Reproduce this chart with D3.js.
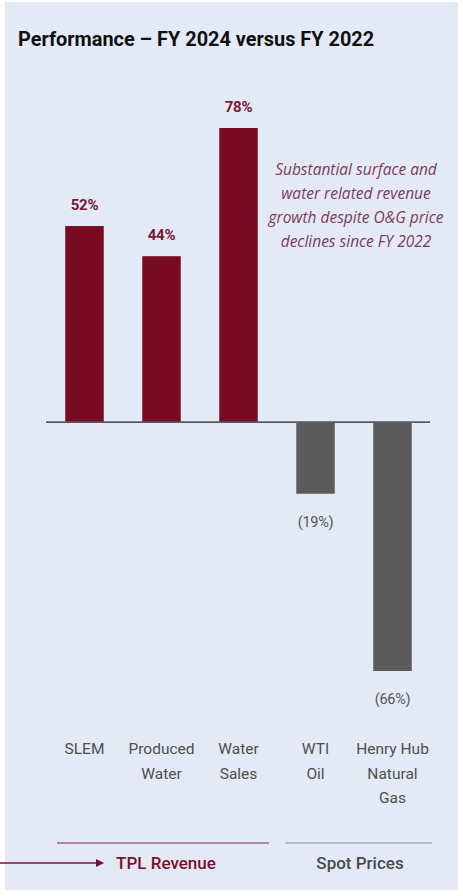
<!DOCTYPE html>
<html>
<head>
<meta charset="utf-8">
<script src="https://cdn.jsdelivr.net/npm/d3@7/dist/d3.min.js"></script>
<style>
  html, body { margin: 0; padding: 0; background: #ffffff; }
  svg { display: block; }
</style>
</head>
<body>
<svg id="chart" width="463" height="896"></svg>
<script>
// Growth from FY 2022 to FY 2024, in percent
const categories = ["SLEM", "Produced Water", "Water Sales", "WTI Oil", "Henry Hub Natural Gas"];
const categoryLines = [["SLEM"], ["Produced", "Water"], ["Water", "Sales"], ["WTI", "Oil"], ["Henry Hub", "Natural", "Gas"]];
const values = [52, 44, 78, -19, -66];
const valueLabels = ["52%", "44%", "78%", "(19%)", "(66%)"];
const groups = ["TPL Revenue", "TPL Revenue", "TPL Revenue", "Spot Prices", "Spot Prices"];
const groupNames = ["TPL Revenue", "Spot Prices"];
const titleText = "Performance \u2013 FY 2024 versus FY 2022";
const noteLines = ["Substantial surface and", "water related revenue", "growth despite O&G price", "declines since FY 2022"];

const svg = d3.select("#chart");
const font = "Roboto, 'Open Sans', sans-serif";

// panel background
svg.append("rect").attr("x", 5).attr("y", 2).attr("width", 453).attr("height", 888)
  .attr("fill", "#e4eaf5");

svg.append("text").attr("x", 18).attr("y", 46)
  .attr("font-family", font).attr("font-weight", 700).attr("font-size", 19.9)
  .attr("fill", "#111")
  .text(titleText);

const x = d3.scaleBand().domain(categories).range([46, 431]).paddingInner(0.5).paddingOuter(0.25);
const y = d3.scaleLinear().domain([-66, 78]).range([671, 128]);

const color = (d, i) => values[i] >= 0 ? "#780a22" : "#5b5b5b";

svg.append("g").selectAll("rect").data(values).join("rect")
  .attr("x", (d, i) => x(categories[i]))
  .attr("width", x.bandwidth())
  .attr("y", d => Math.min(y(d), y(0)))
  .attr("height", d => Math.abs(y(d) - y(0)))
  .attr("fill", color);

// zero baseline
svg.append("line").attr("x1", 46).attr("x2", 430).attr("y1", y(0)).attr("y2", y(0))
  .attr("stroke", "#555b66").attr("stroke-width", 1.6);

// value labels
svg.append("g").selectAll("text").data(values).join("text")
  .attr("x", (d, i) => x(categories[i]) + x.bandwidth() / 2)
  .attr("y", d => d >= 0 ? y(d) - 16 : y(d) + 33)
  .attr("text-anchor", "middle")
  .attr("font-family", font)
  .attr("font-size", d => d >= 0 ? 15 : 14.5)
  .attr("font-weight", d => d >= 0 ? 700 : 400)
  .attr("letter-spacing", -0.3)
  .attr("fill", d => d >= 0 ? "#7a1735" : "#555")
  .text((d, i) => valueLabels[i]);

// category labels
const catG = svg.append("g");
categoryLines.forEach((lines, i) => {
  const t = catG.append("text")
    .attr("x", x(categories[i]) + x.bandwidth() / 2)
    .attr("y", 754)
    .attr("text-anchor", "middle")
    .attr("font-family", font).attr("font-size", 15.5).attr("fill", "#4e4e4e");
  lines.forEach((l, j) => t.append("tspan")
    .attr("x", x(categories[i]) + x.bandwidth() / 2)
    .attr("dy", j === 0 ? 0 : 24.5).text(l));
});

// group brackets
const spanExt = [[57, 269], [285, 432]];
groupNames.forEach((g, k) => {
  svg.append("line").attr("x1", spanExt[k][0]).attr("x2", spanExt[k][1])
    .attr("y1", 843).attr("y2", 843)
    .attr("stroke", k === 0 ? "#b58593" : "#b9bcc4").attr("stroke-width", 1.8);
  svg.append("text")
    .attr("x", k === 0 ? 166 : 360).attr("y", 869)
    .attr("text-anchor", "middle")
    .attr("font-family", font).attr("font-size", 17).attr("font-weight", 500)
    .attr("fill", k === 0 ? "#7a0f2c" : "#4a4a4a")
    .text(g);
});

// arrow pointing at TPL Revenue
svg.append("line").attr("x1", 0).attr("x2", 98).attr("y1", 863).attr("y2", 863)
  .attr("stroke", "#7a0f2c").attr("stroke-width", 1.6);
svg.append("path").attr("d", "M96,859 L104,863 L96,867 Z").attr("fill", "#7a0f2c");

// annotation
const note = svg.append("text").attr("font-family", "'Open Sans', sans-serif")
  .attr("font-style", "italic").attr("font-size", 15.5).attr("fill", "#7d3a5c")
  .attr("text-anchor", "middle");
noteLines.forEach((l, j) => note.append("tspan").attr("x", 356).attr("y", 175 + j * 24).text(l));
</script>
</body>
</html>
